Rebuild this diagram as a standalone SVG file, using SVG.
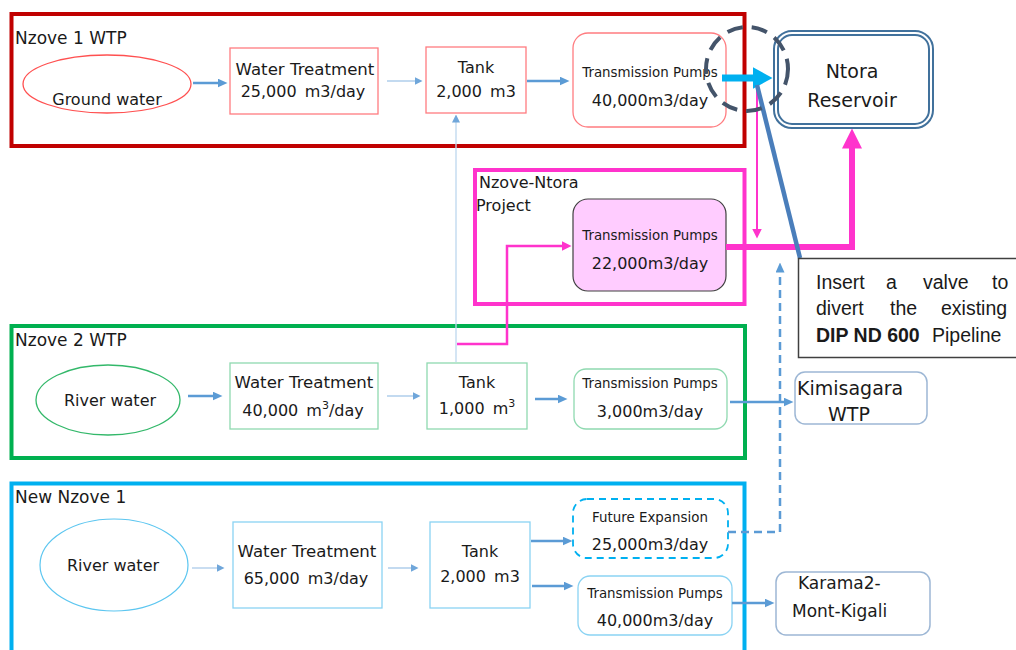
<svg xmlns="http://www.w3.org/2000/svg" width="1016" height="650" viewBox="0 0 1016 650">
<style>
  text{font-family:"DejaVu Sans","Noto Sans",sans-serif;fill:#1a1a1a}
  .lbl{font-size:17px}
  .c{text-anchor:middle}
  .f15{font-size:16.6px}
  .f16{font-size:16px}
  .f13{font-size:13.4px}
  .f19{font-size:19px}
  .f17{font-size:17px}
  .co{font-family:"Liberation Sans",Arial,sans-serif;font-size:19.5px}
  .frame{fill:none;stroke-width:4}
  .n-red{fill:#fff;stroke:#FF7C80;stroke-width:1.3}
  .n-grn{fill:#fff;stroke:#8FD9B0;stroke-width:1.3}
  .n-cyn{fill:#fff;stroke:#8AD3F3;stroke-width:1.3}
  .n-out{fill:#fff;stroke:#9DB7D5;stroke-width:1.5}
  .a-blue{fill:none;stroke:#5B9BD5;stroke-width:2.5}
  .a-light{fill:none;stroke:#A9CBEA;stroke-width:1.4}
  .a-pale{fill:none;stroke:#C9DDF1;stroke-width:2}
</style>
<defs>
  <marker id="mBlue" viewBox="0 0 10 9" refX="0.5" refY="4.5" markerWidth="10" markerHeight="9" markerUnits="userSpaceOnUse" orient="auto">
    <path d="M0,0 L10,4.5 L0,9 z" fill="#5B9BD5"/>
  </marker>
  <marker id="mLight" viewBox="0 0 8 8" refX="0.5" refY="4" markerWidth="8" markerHeight="8" markerUnits="userSpaceOnUse" orient="auto">
    <path d="M0,0 L8,4 L0,8 z" fill="#6FA6DA"/>
  </marker>
  <marker id="mCyan" viewBox="0 0 20 22" refX="0.5" refY="11" markerWidth="20" markerHeight="22" markerUnits="userSpaceOnUse" orient="auto">
    <path d="M0,0 L20,11 L0,22 z" fill="#00B0F0"/>
  </marker>
  <marker id="mPink" viewBox="0 0 20 20" refX="0.5" refY="10" markerWidth="20" markerHeight="20" markerUnits="userSpaceOnUse" orient="auto">
    <path d="M0,0 L20,10 L0,20 z" fill="#FF33CC"/>
  </marker>
  <marker id="mPinkS" viewBox="0 0 10 10" refX="0.5" refY="5" markerWidth="10" markerHeight="10" markerUnits="userSpaceOnUse" orient="auto">
    <path d="M0,0 L10,5 L0,10 z" fill="#FF33CC"/>
  </marker>
</defs>

<rect width="1016" height="650" fill="#fff"/>

<!-- plant frames -->
<g id="frame-nzove1">
  <rect class="frame" x="11.5" y="14" width="733" height="132" stroke="#C00000"/>
  <text class="lbl" x="15" y="44">Nzove 1 WTP</text>
</g>
<g id="frame-project">
  <rect class="frame" x="475" y="170" width="269.5" height="134" stroke="#FF33CC"/>
  <text class="f16" x="479" y="188">Nzove-Ntora</text>
  <text class="f16" x="476" y="211">Project</text>
</g>
<g id="frame-nzove2">
  <rect class="frame" x="11.5" y="326" width="733.5" height="132" stroke="#00B050"/>
  <text class="lbl" x="15" y="346">Nzove 2 WTP</text>
</g>
<g id="frame-new">
  <rect class="frame" x="11.5" y="483.5" width="733" height="200" stroke="#00B0F0"/>
  <text class="lbl" x="15" y="503">New Nzove 1</text>
</g>

<!-- Nzove 1 -->
<g id="n1-source">
  <ellipse cx="107" cy="84" rx="84" ry="29" fill="#fff" stroke="#FF5050" stroke-width="1.3"/>
  <text class="c f16" x="107" y="105">Ground water</text>
</g>
<g id="n1-treatment">
  <rect class="n-red" x="230" y="48" width="148" height="66"/>
  <text class="c f15" x="305" y="75">Water Treatment</text>
  <text class="c f16" x="303" y="97" word-spacing="3">25,000 m3/day</text>
</g>
<g id="n1-tank">
  <rect class="n-red" x="426" y="47" width="100" height="66"/>
  <text class="c f16" x="476" y="73">Tank</text>
  <text class="c f16" x="476" y="97" word-spacing="3">2,000 m3</text>
</g>
<g id="n1-pumps">
  <rect class="n-red" x="573" y="33" width="153" height="94" rx="15"/>
  <text class="c f13" x="650" y="77">Transmission Pumps</text>
  <text class="c f16" x="650" y="106">40,000m3/day</text>
</g>

<!-- Ntora reservoir -->
<g id="ntora">
  <rect x="776" y="33" width="155" height="93" rx="16" fill="#fff" stroke="#41719C" stroke-width="6"/>
  <rect x="776" y="33" width="155" height="93" rx="16" fill="none" stroke="#fff" stroke-width="2"/>
  <text class="c f19" x="852" y="78">Ntora</text>
  <text class="c f19" x="852" y="107">Reservoir</text>
</g>

<!-- Nzove-Ntora project pumps -->
<g id="project-pumps">
  <rect x="573" y="199" width="153" height="92" rx="15" fill="#FFCCFF" stroke="#404040" stroke-width="1.2"/>
  <text class="c f13" x="650" y="240">Transmission Pumps</text>
  <text class="c f16" x="650" y="269">22,000m3/day</text>
</g>

<!-- Nzove 2 -->
<g id="n2-source">
  <ellipse cx="108" cy="400" rx="72" ry="35" fill="#fff" stroke="#33B86A" stroke-width="1.3"/>
  <text class="c f16" x="110" y="406">River water</text>
</g>
<g id="n2-treatment">
  <rect class="n-grn" x="230" y="363" width="148" height="66"/>
  <text class="c f15" x="304" y="388">Water Treatment</text>
  <text class="c f16" x="303" y="416" word-spacing="3">40,000 m<tspan dy="-7" font-size="11">3</tspan><tspan dy="7">/day</tspan></text>
</g>
<g id="n2-tank">
  <rect class="n-grn" x="427" y="363" width="100" height="66"/>
  <text class="c f16" x="477" y="388">Tank</text>
  <text class="c f16" x="477" y="414" word-spacing="3">1,000 m<tspan dy="-7" font-size="11">3</tspan></text>
</g>
<g id="n2-pumps">
  <rect class="n-grn" x="574" y="369" width="153" height="60" rx="12"/>
  <text class="c f13" x="650" y="388">Transmission Pumps</text>
  <text class="c f16" x="650" y="417">3,000m3/day</text>
</g>
<g id="kimisagara">
  <rect class="n-out" x="795" y="372" width="132" height="52" rx="10"/>
  <text class="f19" x="797" y="395">Kimisagara</text>
  <text class="f19" x="828" y="421">WTP</text>
</g>

<!-- New Nzove 1 -->
<g id="n3-source">
  <ellipse cx="114" cy="565" rx="74" ry="46" fill="#fff" stroke="#5CC6F0" stroke-width="1.2"/>
  <text class="c f16" x="113" y="571">River water</text>
</g>
<g id="n3-treatment">
  <rect class="n-cyn" x="233" y="522" width="149" height="86"/>
  <text class="c f15" x="307" y="557">Water Treatment</text>
  <text class="c f16" x="306" y="584" word-spacing="3">65,000 m3/day</text>
</g>
<g id="n3-tank">
  <rect class="n-cyn" x="430" y="522" width="100" height="86"/>
  <text class="c f16" x="480" y="557">Tank</text>
  <text class="c f16" x="480" y="582" word-spacing="3">2,000 m3</text>
</g>
<g id="n3-future">
  <rect x="573" y="499" width="155" height="59" rx="14" fill="#fff" stroke="#00B0F0" stroke-width="1.8" stroke-dasharray="7,5"/>
  <text class="c f13" x="650" y="522">Future Expansion</text>
  <text class="c f16" x="650" y="550">25,000m3/day</text>
</g>
<g id="n3-pumps">
  <rect class="n-cyn" x="578" y="576" width="154" height="59" rx="12"/>
  <text class="c f13" x="655" y="598">Transmission Pumps</text>
  <text class="c f16" x="655" y="626">40,000m3/day</text>
</g>
<g id="karama">
  <rect class="n-out" x="776" y="572" width="154" height="63" rx="10"/>
  <text class="f17" x="798" y="589">Karama2-</text>
  <text class="f17" x="792" y="617">Mont-Kigali</text>
</g>

<!-- connectors -->
<g id="connectors">
  <!-- Nzove 1 chain -->
  <path class="a-blue" d="M193,83 H218" marker-end="url(#mBlue)"/>
  <path class="a-light" d="M387,81 H415" marker-end="url(#mLight)"/>
  <path class="a-blue" d="M527,81 H560" stroke-width="3" marker-end="url(#mBlue)"/>
  <!-- Nzove 2 chain -->
  <path class="a-blue" d="M188,396 H213" marker-end="url(#mBlue)"/>
  <path class="a-light" d="M387,396 H413" marker-end="url(#mLight)"/>
  <path class="a-blue" d="M535,399 H558" stroke-width="2" marker-end="url(#mBlue)"/>
  <path class="a-blue" d="M730,402 H784" marker-end="url(#mBlue)"/>
  <!-- New Nzove 1 chain -->
  <path class="a-pale" d="M192,568 H217" marker-end="url(#mLight)"/>
  <path class="a-light" d="M388,568 H411" marker-end="url(#mLight)"/>
  <path class="a-blue" d="M531,541 H563" stroke-width="3" marker-end="url(#mBlue)"/>
  <path class="a-blue" d="M532,586 H564" stroke-width="3" marker-end="url(#mBlue)"/>
  <path class="a-blue" d="M732,603 H765" marker-end="url(#mBlue)"/>
  <!-- transfer between tanks -->
  <path d="M456,362 V122" fill="none" stroke="#BDD7EE" stroke-width="1.3" marker-end="url(#mLight)"/>
  <path d="M457,344 H507 V246 H562" fill="none" stroke="#FF33CC" stroke-width="2.5" marker-end="url(#mPinkS)"/>
  <!-- future expansion link -->
  <path d="M728,532 H780 V272" fill="none" stroke="#5B9BD5" stroke-width="2.5" stroke-dasharray="8,5" marker-end="url(#mBlue)"/>
  <!-- project delivery to reservoir -->
  <path d="M726,247 H852 V148" fill="none" stroke="#FF33CC" stroke-width="6" stroke-linejoin="miter" marker-end="url(#mPink)"/>
  <path d="M757,88 V229" fill="none" stroke="#FF33CC" stroke-width="2" marker-end="url(#mPinkS)"/>
  <!-- existing main to reservoir -->
  <path d="M722,78 H753" fill="none" stroke="#00B0F0" stroke-width="7" marker-end="url(#mCyan)"/>
  <!-- valve pointer -->
  <path d="M757,85 L800,258" fill="none" stroke="#4A7EBB" stroke-width="4.5"/>
</g>

<!-- valve location -->
<ellipse cx="747" cy="69" rx="41" ry="42" fill="none" stroke="#44546A" stroke-width="4" stroke-dasharray="16,9"/>

<!-- note -->
<g id="note">
  <rect x="798.5" y="258.5" width="230" height="99" fill="#fff" stroke="#404040" stroke-width="1.5"/>
  <text class="co" x="816" y="289">Insert</text>
  <text class="co" x="886" y="289">a</text>
  <text class="co" x="923" y="289">valve</text>
  <text class="co" x="992" y="289">to</text>
  <text class="co" x="816" y="315">divert</text>
  <text class="co" x="890" y="315">the</text>
  <text class="co" x="941" y="315">existing</text>
  <text class="co" x="816" y="342"><tspan font-weight="bold">DIP ND 600</tspan></text>
  <text class="co" x="932" y="342">Pipeline</text>
</g>
</svg>
